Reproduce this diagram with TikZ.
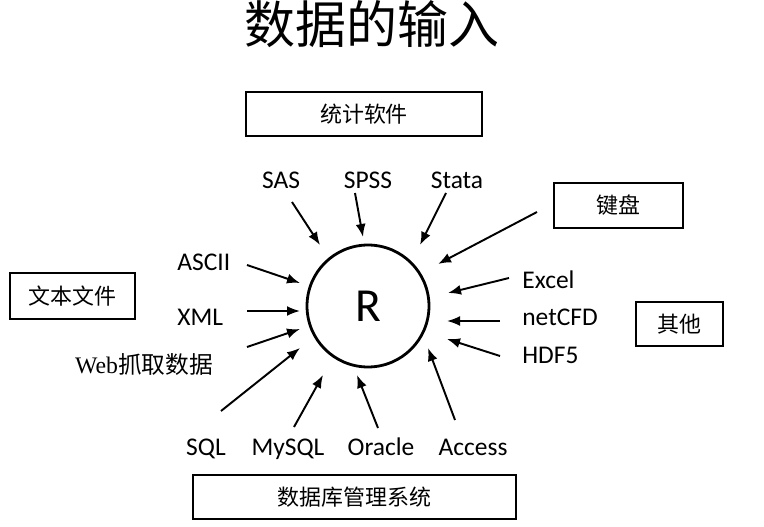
\documentclass[tikz,border=0pt]{standalone}
\usepackage{fontspec}
\setmainfont{Carlito}
\newfontfamily\cjk{Noto Sans CJK SC}
\newfontfamily\webfont{Liberation Serif}
\usetikzlibrary{arrows.meta}
\tikzset{
  srcbox/.style={draw,line width=0.8pt,inner sep=0pt,font=\cjk\fontsize{12.5}{14}\selectfont},
  srclabel/.style={inner sep=0pt,anchor=base,font=\fontsize{14.5}{16}\selectfont},
  feed/.style={-{Latex[length=2.6mm,width=2mm]},line width=1.1pt},
}
\begin{document}
\begin{tikzpicture}[x=0.02cm,y=-0.02cm]
\useasboundingbox (0,0) rectangle (764,527);
% title
\node[font=\cjk\fontsize{29}{32}\selectfont] (title) at (372,24) {数据的输入};
% centre
\node[circle,draw,line width=1.6pt,minimum size=2.44cm,inner sep=0pt,
  font=\fontsize{27}{30}\selectfont] (R) at (368,306) {R};
% group boxes
\node[srcbox,minimum width=4.72cm,minimum height=0.88cm] (stat) at (364,114) {统计软件};
\node[srcbox,minimum width=2.5cm,minimum height=0.92cm] (txt) at (72.5,296) {文本文件};
\node[srcbox,minimum width=2.58cm,minimum height=0.9cm] (keyb) at (618.5,205.5) {键盘};
\node[srcbox,minimum width=1.74cm,minimum height=0.88cm] (other) at (679.5,324) {其他};
\node[srcbox,minimum width=6.46cm,minimum height=0.88cm] (dbms) at (354.5,497) {数据库管理系统};
% source labels
\node[srclabel] (sas) at (281,188) {SAS};
\node[srclabel] (spss) at (368,188) {SPSS};
\node[srclabel] (stata) at (457,188) {Stata};
\node[srclabel,anchor=base west] (ascii) at (177,270) {ASCII};
\node[srclabel,anchor=base west] (xml) at (177,325) {XML};
\node[srclabel,font=\cjk\fontsize{13.5}{16}\selectfont] (web) at (144,373) {{\webfont Web}抓取数据};
\node[srclabel,anchor=base west] (excel) at (522,288) {Excel};
\node[srclabel,anchor=base west] (netcfd) at (522,325) {netCFD};
\node[srclabel,anchor=base west] (hdf) at (522,363) {HDF5};
\node[srclabel] (sql) at (206,455) {SQL};
\node[srclabel] (mysql) at (288,455) {MySQL};
\node[srclabel] (oracle) at (381,455) {Oracle};
\node[srclabel] (access) at (473,455) {Access};
% arrow ends
\coordinate (sas-a) at (292,202);    \coordinate (sas-b) at (320,245);
\coordinate (spss-a) at (355,193);   \coordinate (spss-b) at (363,237);
\coordinate (stata-a) at (446,193);  \coordinate (stata-b) at (420,245);
\coordinate (keyb-a) at (537,212);   \coordinate (keyb-b) at (438,264);
\coordinate (excel-a) at (509,278);  \coordinate (excel-b) at (448,293);
\coordinate (netcfd-a) at (500,321); \coordinate (netcfd-b) at (447,321);
\coordinate (hdf-a) at (500,356);    \coordinate (hdf-b) at (447,339);
\coordinate (access-a) at (455,420); \coordinate (access-b) at (428,348);
\coordinate (oracle-a) at (378,428); \coordinate (oracle-b) at (357,375);
\coordinate (mysql-a) at (294,427);  \coordinate (mysql-b) at (323,375);
\coordinate (sql-a) at (221,411);    \coordinate (sql-b) at (300,348);
\coordinate (web-a) at (247,347);    \coordinate (web-b) at (300,329);
\coordinate (xml-a) at (247,311);    \coordinate (xml-b) at (300,311);
\coordinate (ascii-a) at (247,265);  \coordinate (ascii-b) at (300,283);
% arrows into R
\draw[feed] (sas-a) -- (sas-b);
\draw[feed] (spss-a) -- (spss-b);
\draw[feed] (stata-a) -- (stata-b);
\draw[feed] (keyb-a) -- (keyb-b);
\draw[feed] (excel-a) -- (excel-b);
\draw[feed] (netcfd-a) -- (netcfd-b);
\draw[feed] (hdf-a) -- (hdf-b);
\draw[feed] (access-a) -- (access-b);
\draw[feed] (oracle-a) -- (oracle-b);
\draw[feed] (mysql-a) -- (mysql-b);
\draw[feed] (sql-a) -- (sql-b);
\draw[feed] (web-a) -- (web-b);
\draw[feed] (xml-a) -- (xml-b);
\draw[feed] (ascii-a) -- (ascii-b);
\end{tikzpicture}
\end{document}
